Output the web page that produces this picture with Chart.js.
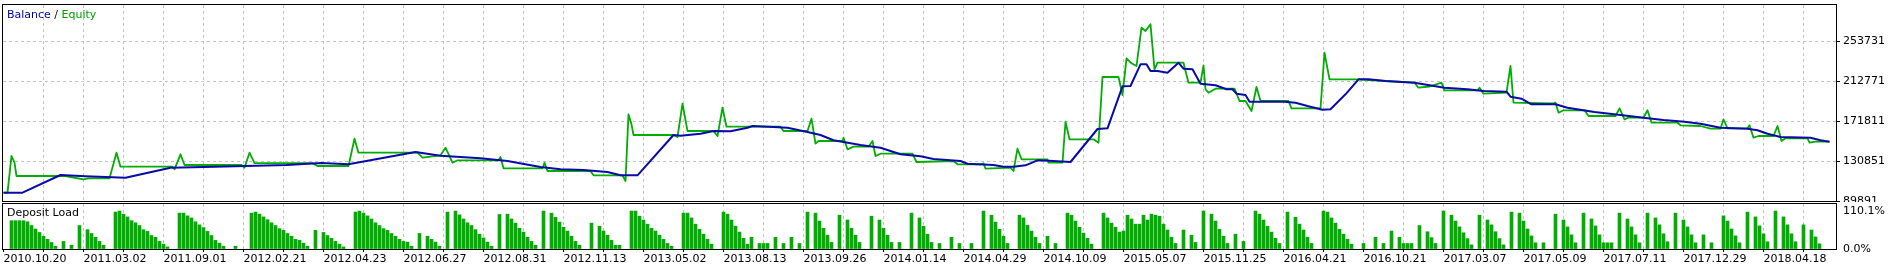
<!DOCTYPE html>
<html>
<head>
<meta charset="utf-8">
<script src="https://cdn.jsdelivr.net/npm/chart.js@4.4.1/dist/chart.umd.min.js"></script>
<style>
  html, body { margin: 0; padding: 0; background: #fff; }
  #wrap { position: relative; width: 1889px; height: 269px; overflow: hidden; }
  canvas { position: absolute; left: 0; }
  .lbl { position: absolute; font: 11px "DejaVu Sans", sans-serif; line-height: 12px; color: #000; white-space: pre; }
</style>
</head>
<body>
<div id="wrap">
  <canvas id="graficoSaldo" width="1889" height="202" style="top:0"></canvas>
  <canvas id="graficoCarga" width="1889" height="67" style="top:202px"></canvas>
  <div class="lbl" style="left:7px;top:9px"><span style="color:#0000a8">Balance</span> / <span style="color:#00a000">Equity</span></div>
  <div class="lbl" style="left:7px;top:207px">Deposit Load</div>
</div>
<script>
// rótulos do eixo x (um a cada 20 operações)
const dateLabels = ["2010.10.20", "2011.03.02", "2011.09.01", "2012.02.21", "2012.04.23",
  "2012.06.27", "2012.08.31", "2012.11.13", "2013.05.02", "2013.08.13", "2013.09.26",
  "2014.01.14", "2014.04.29", "2014.10.09", "2015.05.07", "2015.11.25", "2016.04.21",
  "2016.10.21", "2017.03.07", "2017.05.09", "2017.07.11", "2017.12.29", "2018.04.18"];

// saldo: número da operação / valor
const balanceTrade = [0, 4.75, 14.25, 20.5, 30.5, 41.75, 52.75, 70.75, 79.5, 86.25,
  103, 109.25, 119.25, 126, 134.25, 139.25, 145, 151, 154.25, 158.5,
  167.5, 169.25, 174.25, 177.5, 181.75, 186, 187.25, 192.5, 196, 201,
  204.25, 207.5, 212.5, 214.25, 219.25, 224.25, 229.25, 232.5, 239.25, 241,
  247.5, 250, 252.5, 255.5, 258.5, 262.5, 266.75, 273.5, 276, 279.75,
  281.75, 284.25, 285.75, 286.75, 288.5, 291, 293.75, 295, 297.25, 299.25,
  303, 305.75, 307.25, 308.25, 310.5, 311.5, 320.25, 323, 326, 329.75,
  331.75, 335.5, 338.75, 341.25, 345.5, 352.75, 356.5, 360.25, 366, 370,
  375.75, 376.75, 379.5, 382, 388, 391, 397.75, 404.25, 410, 415,
  420.25, 424.25, 429.25, 436, 438.5, 441, 444.25, 451.75, 454.25, 456.5];
const balanceValue = [98390, 98390, 116515, 115184, 113750, 123990, 125014, 126755, 128803, 127472,
  140067, 136278, 133616, 130851, 124707, 122352, 121635, 119587, 116208, 116208,
  157475, 156758, 158806, 161571, 161264, 164950, 166691, 165667, 164950, 160547,
  157475, 152048, 148566, 147235, 144470, 137712, 135664, 132899, 130851, 128086,
  126755, 125014, 125014, 126448, 131567, 130851, 129827, 163619, 164336, 207344,
  207651, 229872, 229872, 223011, 223011, 221270, 231510, 225366, 224752, 209976,
  208409, 204313, 204313, 199766, 198435, 191572, 191572, 190548, 187171, 183379,
  183789, 199152, 214512, 214512, 212771, 211030, 208368, 205907, 204270, 202531,
  201812, 196691, 194644, 188909, 188909, 185428, 181027, 177955, 175190, 172835,
  171094, 169043, 164950, 163926, 162288, 158806, 155427, 154710, 152048, 150614];

// patrimônio (equity)
const equityTrade = [0, 1, 2, 2.75, 3.25, 15.5, 16.75, 20, 21.25, 26.5,
  28.25, 29.25, 42.25, 42.75, 44.25, 45.25, 59.5, 60.25, 61.5, 62.75,
  77.25, 78.5, 86.25, 87.75, 88.75, 103.5, 104.75, 109.25, 110.5, 112.25,
  113.5, 123.75, 124.25, 125, 134.75, 135.25, 136, 146.75, 147.5, 154.75,
  155.5, 156.25, 157, 157.5, 167.5, 168.5, 169.75, 171, 177.5, 178.5,
  179.75, 180.75, 194.25, 195, 201, 202, 203, 203.75, 209.75, 210,
  211, 212.5, 216.25, 217.25, 218, 219.25, 227.25, 228.25, 237.5, 238.5,
  244.25, 245, 245.5, 251.75, 252.5, 253.5, 254.5, 261, 261.25, 264.75,
  265.5, 266.5, 272.5, 273.75, 274.75, 278.75, 279.75, 280.75, 282, 283.25,
  284.5, 285.5, 286.75, 287.75, 288.5, 295, 296.25, 299.25, 300, 300.5,
  301.25, 303, 307.75, 309, 310.5, 312, 313.25, 314.25, 321.25, 322,
  329.25, 330.25, 331.5, 338.25, 345.5, 352.75, 353.75, 356.5, 359.5, 360.25,
  368.5, 369, 370, 375.75, 376.75, 377.5, 387.25, 388, 388.75, 390,
  395.25, 396.25, 403, 404, 405.25, 406.25, 410, 411, 412, 418.5,
  419.25, 424.25, 426.75, 429.25, 430, 431, 436, 436.5, 437.5, 438.75,
  442.5, 443.5, 444.5, 445.5, 451, 451.5, 453, 456.5];
const equityValue = [98390, 98390, 135971, 129110, 115491, 115491, 114467, 112112, 113136, 113136,
  139350, 124990, 124990, 122352, 137712, 126755, 126755, 123990, 139350, 128700,
  128700, 125731, 125731, 153686, 139350, 139350, 134230, 136687, 144470, 129110,
  131567, 131567, 134947, 123376, 123376, 129110, 120611, 120611, 116208, 116208,
  110371, 178672, 168432, 157475, 157475, 155427, 189526, 161571, 161571, 156451,
  185428, 165974, 165974, 161571, 161571, 174166, 148566, 151331, 151331, 154710,
  142832, 145494, 145494, 151331, 135971, 138326, 138326, 129827, 130851, 127472,
  127472, 128496, 122966, 123990, 120611, 143446, 132590, 132590, 129110, 129110,
  171094, 153069, 153069, 149590, 216867, 216867, 198435, 236015, 230895, 228131,
  267350, 263971, 270832, 224752, 231510, 231510, 211030, 211030, 228848, 204313,
  200790, 204886, 204886, 192291, 192291, 182051, 206627, 192291, 192291, 184816,
  184816, 241750, 214512, 214512, 212771, 211030, 205907, 207139, 211030, 203245,
  203245, 205907, 199766, 200790, 228131, 190548, 189726, 190548, 180310, 182767,
  182767, 176931, 176931, 184816, 173550, 175190, 175190, 182767, 170070, 170070,
  167406, 166691, 163926, 163926, 173550, 164336, 164336, 167406, 154710, 156451,
  156451, 166691, 151331, 154096, 154096, 149590, 150614, 150614];

// carga do depósito (%), uma barra por operação a partir da operação 0
const depositLoad = [
  0, 0, 82, 82, 82, 82, 79, 68, 58, 48,
  37, 28, 19, 8, 0, 22, 0, 11, 0, 68,
  0, 56, 45, 34, 22, 11, 0, 0, 107, 110,
  101, 93, 82, 76, 68, 56, 51, 39, 34, 22,
  14, 6, 0, 0, 104, 104, 96, 90, 79, 70,
  62, 51, 39, 25, 17, 8, 0, 0, 8, 0,
  0, 0, 104, 107, 101, 93, 85, 76, 68, 59,
  54, 45, 37, 28, 25, 17, 8, 0, 54, 0,
  48, 39, 31, 22, 14, 6, 0, 0, 107, 110,
  104, 96, 87, 76, 68, 59, 54, 45, 37, 28,
  22, 20, 8, 0, 45, 0, 37, 28, 20, 8,
  0, 107, 0, 110, 99, 87, 76, 68, 56, 43,
  32, 20, 8, 0, 100, 0, 101, 87, 75, 60,
  49, 34, 22, 11, 0, 110, 0, 104, 92, 78,
  63, 52, 37, 22, 11, 0, 0, 75, 0, 66,
  52, 40, 25, 11, 11, 0, 0, 110, 110, 95,
  84, 72, 60, 52, 40, 28, 16, 8, 0, 0,
  104, 104, 90, 72, 57, 43, 28, 14, 0, 0,
  107, 101, 84, 66, 49, 31, 14, 34, 0, 16,
  16, 16, 0, 34, 0, 16, 0, 34, 0, 16,
  0, 107, 0, 104, 81, 60, 40, 19, 0, 98,
  0, 84, 60, 40, 19, 0, 0, 95, 0, 84,
  60, 40, 19, 0, 19, 0, 0, 104, 0, 90,
  66, 43, 19, 0, 16, 0, 0, 34, 0, 16,
  0, 0, 16, 0, 0, 110, 0, 98, 78, 57,
  37, 16, 0, 0, 98, 90, 69, 52, 34, 16,
  0, 37, 0, 16, 0, 0, 104, 98, 81, 63,
  46, 31, 14, 0, 0, 104, 90, 75, 63, 49,
  52, 98, 87, 72, 72, 98, 84, 101, 98, 95,
  72, 55, 34, 16, 0, 55, 0, 40, 19, 0,
  110, 0, 101, 81, 57, 37, 16, 0, 43, 0,
  22, 0, 0, 110, 101, 84, 66, 49, 31, 16,
  0, 107, 0, 92, 72, 55, 34, 16, 0, 0,
  110, 107, 90, 75, 57, 43, 28, 14, 0, 0,
  16, 0, 0, 34, 0, 16, 0, 52, 0, 34,
  16, 16, 16, 0, 68, 0, 50, 33, 16, 0,
  110, 0, 98, 81, 64, 47, 30, 12, 0, 98,
  0, 84, 70, 50, 30, 12, 0, 107, 0, 104,
  81, 58, 38, 18, 0, 18, 0, 0, 101, 0,
  84, 64, 41, 18, 0, 104, 0, 87, 67, 41,
  18, 18, 18, 0, 104, 0, 87, 64, 41, 18,
  0, 104, 0, 90, 70, 44, 21, 0, 104, 0,
  84, 64, 41, 18, 0, 41, 0, 18, 0, 0,
  96, 81, 58, 38, 18, 0, 107, 0, 93, 67,
  44, 21, 0, 110, 0, 93, 70, 44, 21, 0,
  70, 0, 55, 35, 15];

const valueTicks = [89891, 130851, 171811, 212771, 253731];
const loadTicks = [0, 110.1];

const GRID = "#c4c4c4";
const BLUE = "#0a0aa8";
const GREEN = "#00ad00";

Chart.defaults.font.family = "'DejaVu Sans', sans-serif";
Chart.defaults.font.size = 11;
Chart.defaults.color = "#000";

// moldura preta em volta da área do gráfico
const moldura = {
  id: "moldura",
  afterDraw(chart) {
    const { ctx, chartArea: a } = chart;
    ctx.save();
    ctx.strokeStyle = "#000";
    ctx.lineWidth = 1;
    ctx.setLineDash([]);
    ctx.strokeRect(a.left - 0.5, a.top - 0.5, a.right - a.left + 1, a.bottom - a.top + 1);
    ctx.restore();
  },
};

// sem folga extra para os rótulos: a área do gráfico fica onde o layout manda
function semFolga(s) {
  s.paddingTop = 0;
  s.paddingBottom = 0;
  s.paddingLeft = 0;
  s.paddingRight = 0;
}

function tradeTicks(scale) {
  const ticks = [];
  for (let v = 0; v <= 450; v += 10) ticks.push({ value: v });
  scale.ticks = ticks;
}

function eixoX(showLabels) {
  return {
    type: "linear",
    min: -0.125,
    max: 458.125,
    offset: false,
    afterBuildTicks: tradeTicks,
    afterFit: (s) => { s.height = showLabels ? 20 : 0; semFolga(s); },
    border: { display: false, dash: [3, 3] },
    grid: {
      offset: false,
      color: (c) => (c.tick && c.tick.value === 0 ? "rgba(0,0,0,0)" : GRID),
      drawTicks: showLabels,
      tickLength: 3,
      tickColor: "#000",
      tickBorderDash: [],
    },
    ticks: {
      display: showLabels,
      autoSkip: false,
      maxRotation: 0,
      minRotation: 0,
      align: "start",
      padding: 1,
      callback: (v) => (v % 20 === 0 ? dateLabels[v / 20] : ""),
    },
  };
}

function inicializarGraficoSaldo() {
  const ctx = document.getElementById("graficoSaldo");
  new Chart(ctx, {
    type: "line",
    data: {
      datasets: [
        {
          label: "Balance",
          data: balanceTrade.map((t, i) => ({ x: t, y: balanceValue[i] })),
          borderColor: BLUE,
          borderWidth: 2,
          pointRadius: 0,
          tension: 0,
          borderJoinStyle: "round",
        },
        {
          label: "Equity",
          data: equityTrade.map((t, i) => ({ x: t, y: equityValue[i] })),
          borderColor: GREEN,
          borderWidth: 1.8,
          pointRadius: 0,
          tension: 0,
          borderJoinStyle: "round",
        },
      ],
    },
    options: {
      responsive: false,
      animation: false,
      devicePixelRatio: 1,
      layout: { padding: { left: 3, top: 5, right: 0, bottom: 1 } },
      plugins: { legend: { display: false }, tooltip: { enabled: false } },
      scales: {
        x: eixoX(false),
        y: {
          position: "right",
          min: 89891,
          max: 290595,
          afterBuildTicks: (s) => { s.ticks = valueTicks.map((v) => ({ value: v })); },
          afterFit: (s) => { s.width = 53; semFolga(s); },
          border: { display: false, dash: [3, 3] },
          grid: {
            color: GRID,
            tickLength: 4,
            tickColor: "#000",
            tickBorderDash: [],
          },
          ticks: { padding: 3, callback: (v) => String(v) },
        },
      },
    },
    plugins: [moldura],
  });
}

function inicializarGraficoCarga() {
  const ctx = document.getElementById("graficoCarga");
  const barras = [];
  depositLoad.forEach((v, i) => { if (v > 0) barras.push({ x: i, y: v }); });
  new Chart(ctx, {
    type: "bar",
    data: {
      datasets: [
        {
          label: "Deposit Load",
          data: barras,
          backgroundColor: GREEN,
          barThickness: 3,
          grouped: false,
        },
      ],
    },
    options: {
      responsive: false,
      animation: false,
      devicePixelRatio: 1,
      layout: { padding: { left: 3, top: 2, right: 0, bottom: 0 } },
      plugins: { legend: { display: false }, tooltip: { enabled: false } },
      scales: {
        x: eixoX(true),
        y: {
          position: "right",
          min: 0,
          max: 130.4,
          afterBuildTicks: (s) => { s.ticks = loadTicks.map((v) => ({ value: v })); },
          afterFit: (s) => { s.width = 53; semFolga(s); },
          border: { display: false },
          grid: {
            drawOnChartArea: false,
            tickLength: 4,
            tickColor: "rgba(0,0,0,0)",
          },
          ticks: { padding: 3, callback: (v) => v.toFixed(1) + "%" },
        },
      },
    },
    plugins: [moldura],
  });
}

inicializarGraficoSaldo();
inicializarGraficoCarga();
</script>
</body>
</html>
